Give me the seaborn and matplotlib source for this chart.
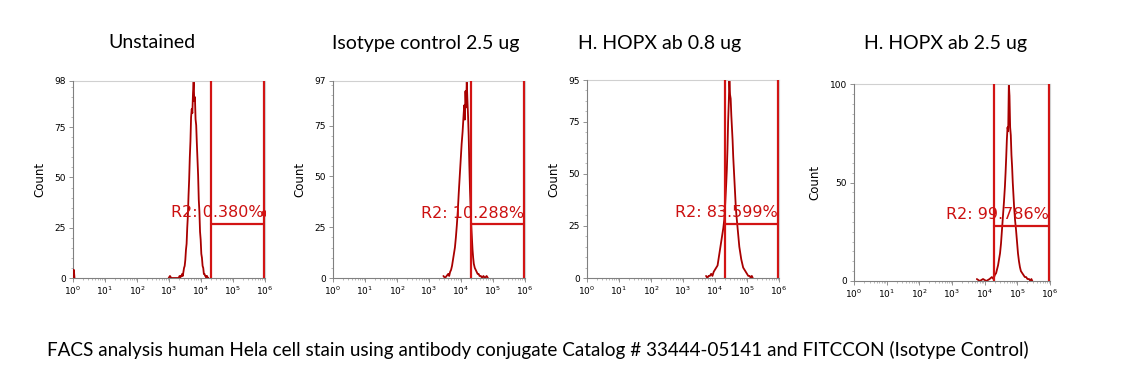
import numpy as np
import pandas as pd
import matplotlib
matplotlib.use("Agg")
import matplotlib.pyplot as plt
from matplotlib.ticker import FixedLocator, NullFormatter, FuncFormatter, LogLocator
import seaborn as sns

# ---------------- data (log10 fluorescence position, event count) ----------------
titles = ["Unstained", "Isotype control 2.5 ug", "H. HOPX ab 0.8 ug", "H. HOPX ab 2.5 ug"]
gate_labels = ["R2: 0.380%", "R2: 10.288%", "R2: 83.599%", "R2: 99.786%"]
y_max = [98, 97, 95, 100]
y_ticks = [[0, 25, 50, 75, 98], [0, 25, 50, 75, 97], [0, 25, 50, 75, 95], [0, 50, 100]]
gate_height = [27, 26.5, 26, 28]
gate_left_log = 4.30
gate_right_log = 5.97

# off-scale events piled in the first channel of the unstained sample
unstained_edge_log = [0.02, 0.02, 0.04]
unstained_edge_cnt = [0, 4, 0]

unstained_log = [2.99, 3.03, 3.07, 3.31, 3.33, 3.35, 3.37, 3.39, 3.41, 3.43, 3.45, 3.47,
                 3.49, 3.51, 3.53, 3.55, 3.57, 3.59, 3.61, 3.63, 3.65, 3.67, 3.69, 3.71,
                 3.73, 3.75, 3.77, 3.79, 3.81, 3.83, 3.85, 3.87, 3.89, 3.91, 3.93, 3.95,
                 3.97, 3.99, 4.01, 4.03, 4.05, 4.07, 4.09, 4.11, 4.13, 4.15, 4.17, 4.19,
                 4.21, 4.23]
unstained_cnt = [0, 1, 0, 0, 1, 0, 1, 1, 2, 1, 3, 5,
                 6, 9, 14, 17, 25, 31, 41, 49, 60, 68, 80, 84,
                 82, 92, 98, 88, 90, 79, 76, 67, 59, 51, 39, 33,
                 23, 19, 12, 10, 6, 5, 2, 2, 1, 1, 0, 1,
                 0, 0]

isotype_log = [3.45, 3.50, 3.55, 3.60, 3.63, 3.66, 3.69, 3.72, 3.75, 3.78, 3.81, 3.84, 3.87,
               3.90, 3.93, 3.96, 3.99, 4.02, 4.05, 4.08, 4.10, 4.12, 4.14, 4.16, 4.18,
               4.20, 4.22, 4.24, 4.26, 4.28, 4.30, 4.32, 4.34, 4.36, 4.38, 4.40, 4.43,
               4.46, 4.49, 4.52, 4.55, 4.58, 4.62, 4.66, 4.70, 4.75, 4.80, 4.84]
isotype_cnt = [1, 0, 1, 2, 1, 3, 4, 6, 9, 12, 15, 20, 26,
               33, 42, 50, 58, 66, 72, 80, 85, 78, 92, 84, 97,
               88, 80, 70, 56, 44, 35, 26, 20, 14, 10, 7, 5,
               4, 3, 2, 2, 1, 1, 0, 1, 0, 1, 0]

hopx08_log = [3.72, 3.76, 3.80, 3.84, 3.88, 3.92, 3.96, 4.00, 4.04, 4.08, 4.11, 4.14, 4.17,
              4.20, 4.23, 4.26, 4.29, 4.32, 4.35, 4.37, 4.39, 4.41, 4.43, 4.45, 4.47,
              4.49, 4.51, 4.53, 4.55, 4.57, 4.59, 4.61, 4.63, 4.65, 4.67, 4.70, 4.73,
              4.76, 4.79, 4.82, 4.85, 4.88, 4.92, 4.96, 5.00, 5.04, 5.08, 5.12, 5.15, 5.18]
hopx08_cnt = [1, 0, 1, 1, 2, 1, 3, 4, 5, 6, 9, 12, 15,
              18, 21, 24, 28, 36, 45, 52, 62, 75, 84, 95, 88,
              86, 78, 72, 66, 58, 52, 46, 40, 34, 30, 25, 20,
              15, 12, 9, 7, 5, 4, 3, 2, 1, 1, 0, 1, 0]

hopx25_log = [3.76, 3.85, 3.95, 4.05, 4.15, 4.22, 4.27, 4.31, 4.35, 4.38, 4.41, 4.44, 4.47,
              4.50, 4.53, 4.56, 4.59, 4.62, 4.64, 4.66, 4.68, 4.70, 4.72, 4.74, 4.76,
              4.78, 4.80, 4.82, 4.84, 4.86, 4.88, 4.90, 4.93, 4.96, 4.99, 5.02, 5.05,
              5.08, 5.11, 5.15, 5.19, 5.23, 5.27, 5.31, 5.36, 5.40, 5.43, 5.46]
hopx25_cnt = [1, 0, 1, 0, 1, 2, 1, 3, 4, 6, 8, 11, 14,
              19, 26, 33, 40, 48, 55, 63, 72, 78, 76, 100, 94,
              78, 74, 64, 58, 50, 44, 38, 31, 26, 20, 14, 10,
              7, 5, 4, 3, 2, 2, 1, 1, 0, 1, 0]

series_log = [unstained_log, isotype_log, hopx08_log, hopx25_log]
series_cnt = [unstained_cnt, isotype_cnt, hopx08_cnt, hopx25_cnt]

caption = "FACS analysis human Hela cell stain using antibody conjugate Catalog # 33444-05141 and FITCCON (Isotype Control)"

# ---------------- style ----------------
sns.set_style("white")
plt.rcParams["font.family"] = ["DejaVu Sans"]
plt.rcParams["text.color"] = "black"
plt.rcParams["axes.labelcolor"] = "black"
plt.rcParams["xtick.labelcolor"] = "black"
plt.rcParams["ytick.labelcolor"] = "black"

W, H = 1139, 378
fig = plt.figure(figsize=(W / 100, H / 100), dpi=100)

# axes boxes in pixels: left, top, right, bottom
boxes = [(73, 81, 265, 278), (333, 81, 525, 278), (587, 80, 779, 278), (854, 84, 1050, 281)]
title_x = [152, 426, 660, 945]

hist_color = "#a80000"
gate_color = "#d21414"
title_font = ["Lato", "DejaVu Sans"]

for i in range(4):
    l, t, r, b = boxes[i]
    ax = fig.add_axes([l / W, 1 - b / H, (r - l) / W, (b - t) / H])
    df = pd.DataFrame({"x": 10 ** np.array(series_log[i]), "count": series_cnt[i]})
    sns.lineplot(data=df, x="x", y="count", ax=ax, color=hist_color, lw=1.3,
                 estimator=None, sort=True, legend=False)
    if i == 0:
        edge = pd.DataFrame({"x": 10 ** np.array(unstained_edge_log), "count": unstained_edge_cnt})
        sns.lineplot(data=edge, x="x", y="count", ax=ax, color=hist_color, lw=1.6,
                     estimator=None, sort=False, legend=False, zorder=6)
    ax.set_xscale("log")
    ax.set_xlim(1, 1e6)
    ax.set_ylim(0, y_max[i])

    gl, gr = 10 ** gate_left_log, 10 ** gate_right_log
    ax.axvline(gl, color=gate_color, lw=1.6, zorder=5)
    ax.axvline(gr, color=gate_color, lw=1.6, zorder=5)
    ax.plot([gl, gr], [gate_height[i], gate_height[i]], color=gate_color, lw=1.6, zorder=5)
    ax.text(gr, gate_height[i] + 1.8, gate_labels[i], color="#cc1010", fontsize=11.5,
            ha="right", va="bottom", zorder=6)
    if i == 0:
        ax.plot([gr], [gate_height[i] + 5.5], "o", color=gate_color, ms=3.5, zorder=6)

    ax.set_xlabel("")
    ax.set_ylabel("Count", fontsize=8.5, labelpad=6)
    ax.yaxis.set_major_locator(FixedLocator(y_ticks[i]))
    ax.yaxis.set_minor_locator(FixedLocator(list(range(0, y_max[i] + 1, 5))))
    ax.xaxis.set_major_locator(LogLocator(base=10, numticks=10))
    ax.xaxis.set_minor_locator(LogLocator(base=10, subs=np.arange(2, 10), numticks=10))
    ax.xaxis.set_minor_formatter(NullFormatter())
    ax.xaxis.set_major_formatter(FuncFormatter(lambda v, p: r"$10^{%d}$" % round(np.log10(v))))
    ax.tick_params(axis="both", which="major", labelsize=6.5, length=3, width=0.6,
                   color="#808080", pad=2, left=True, bottom=True)
    ax.tick_params(axis="both", which="minor", length=1.5, width=0.5, color="#a0a0a0",
                   left=True, bottom=True)
    for side in ["left", "bottom"]:
        ax.spines[side].set_color("#808080")
        ax.spines[side].set_linewidth(0.8)
        ax.spines[side].set_zorder(4)
    for side in ["top", "right"]:
        ax.spines[side].set_color("#d0d0d0")
        ax.spines[side].set_linewidth(0.8)

    fig.text(title_x[i] / W, 1 - 43 / H, titles[i], ha="center", va="center",
             fontsize=14, family=title_font, color="black")

fig.text(538 / W, 1 - 350 / H, caption, ha="center", va="center", fontsize=13.6,
         family=title_font, color="black")

fig.savefig("out.png", dpi=100, facecolor="white")
